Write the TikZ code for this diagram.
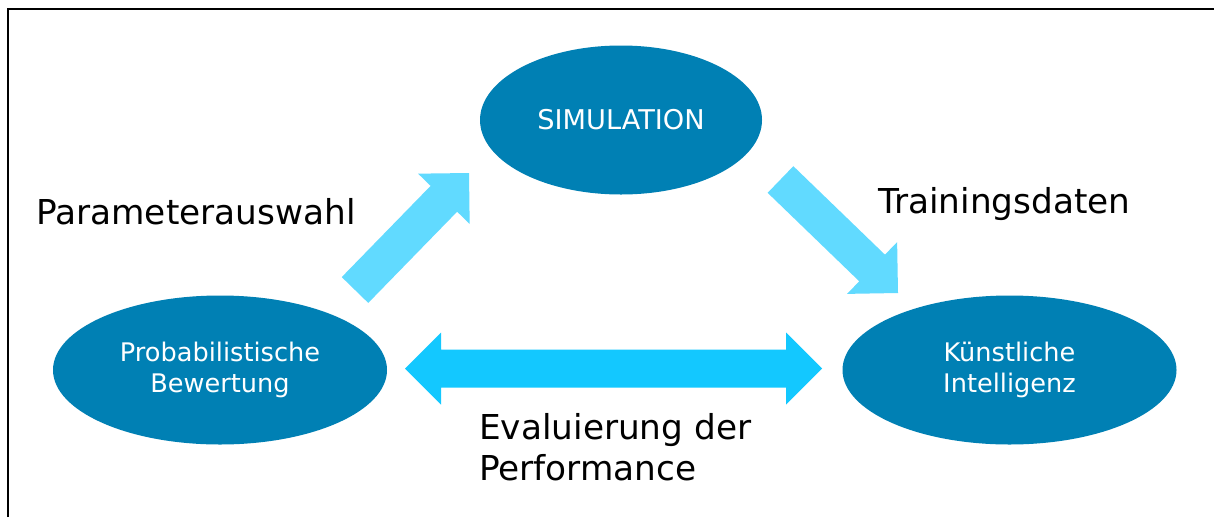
\documentclass[tikz,border=0pt]{standalone}
\usepackage{fontspec}
\setmainfont{DejaVu Sans}
\usetikzlibrary{shapes.geometric,calc}

\definecolor{nodeblue}{RGB}{0,128,180}
\definecolor{flowcyan}{RGB}{97,218,255}
\definecolor{linkcyan}{RGB}{19,200,255}

\tikzset{
  stage/.style={ellipse, fill=nodeblue, draw=none, text=white, align=center,
    minimum width=334pt, minimum height=149pt, inner sep=0pt,
    font=\fontsize{25.6}{31}\selectfont},
  bigtext/.style={text=black, inner sep=0pt, align=left,
    font=\fontsize{34.3}{41}\selectfont},
  frameline/.style={line width=2.4pt, black}
}

\begin{document}
\begin{tikzpicture}[x=1pt,y=-1pt]
  \useasboundingbox (0,0) rectangle (1214,517);
  \fill[white] (0,0) rectangle (1214,517);

  % open frame: top and left edges
  \coordinate (frameTL) at (8.2,9.2);
  \coordinate (frameTR) at (1214,9.2);
  \coordinate (frameBL) at (8.2,517);
  \draw[frameline] (frameBL) -- (frameTL) -- (frameTR);

  % stages
  \node[stage, minimum width=282pt] (sim) at (621,120)
    {\fontsize{27.2}{31}\selectfont SIMULATION};
  \node[stage] (prob) at (220,370) {Probabilistische\\Bewertung};
  \node[stage] (ki) at (1009.5,370) {Künstliche\\Intelligenz};

  % arrow end points
  \coordinate (upA) at (355,290);
  \coordinate (upB) at (469,173);
  \coordinate (dnA) at (780.5,179.5);
  \coordinate (dnB) at (898,293);
  \coordinate (hL) at (405,368.5);
  \coordinate (hR) at (822,368.5);

  % parameter selection: evaluation -> simulation
  \fill[flowcyan] ($(upA)!18.5pt!90:(upB)$)
    -- ($($(upB)!36pt!(upA)$)!18.5pt!-90:(upA)$)
    -- ($($(upB)!36pt!(upA)$)!36pt!-90:(upA)$)
    -- (upB)
    -- ($($(upB)!36pt!(upA)$)!36pt!90:(upA)$)
    -- ($($(upB)!36pt!(upA)$)!18.5pt!90:(upA)$)
    -- ($(upA)!18.5pt!-90:(upB)$) -- cycle;

  % training data: simulation -> AI
  \fill[flowcyan] ($(dnA)!18.5pt!90:(dnB)$)
    -- ($($(dnB)!36pt!(dnA)$)!18.5pt!-90:(dnA)$)
    -- ($($(dnB)!36pt!(dnA)$)!36pt!-90:(dnA)$)
    -- (dnB)
    -- ($($(dnB)!36pt!(dnA)$)!36pt!90:(dnA)$)
    -- ($($(dnB)!36pt!(dnA)$)!18.5pt!90:(dnA)$)
    -- ($(dnA)!18.5pt!-90:(dnB)$) -- cycle;

  % performance evaluation: two-headed
  \fill[linkcyan] (hL)
    -- ($($(hL)!36pt!(hR)$)!36pt!90:(hR)$)
    -- ($($(hL)!36pt!(hR)$)!19pt!90:(hR)$)
    -- ($($(hR)!36pt!(hL)$)!19pt!-90:(hL)$)
    -- ($($(hR)!36pt!(hL)$)!36pt!-90:(hL)$)
    -- (hR)
    -- ($($(hR)!36pt!(hL)$)!36pt!90:(hL)$)
    -- ($($(hR)!36pt!(hL)$)!19pt!90:(hL)$)
    -- ($($(hL)!36pt!(hR)$)!19pt!-90:(hR)$)
    -- ($($(hL)!36pt!(hR)$)!36pt!-90:(hR)$)
    -- cycle;

  % labels
  \node[bigtext, anchor=base west] (lblParam) at (36,224) {Parameterauswahl};
  \node[bigtext, anchor=base west] (lblTrain) at (878,213) {Trainingsdaten};
  \node[bigtext, anchor=west] (lblEval) at (479,447.5) {Evaluierung der\\Performance};
\end{tikzpicture}
\end{document}
